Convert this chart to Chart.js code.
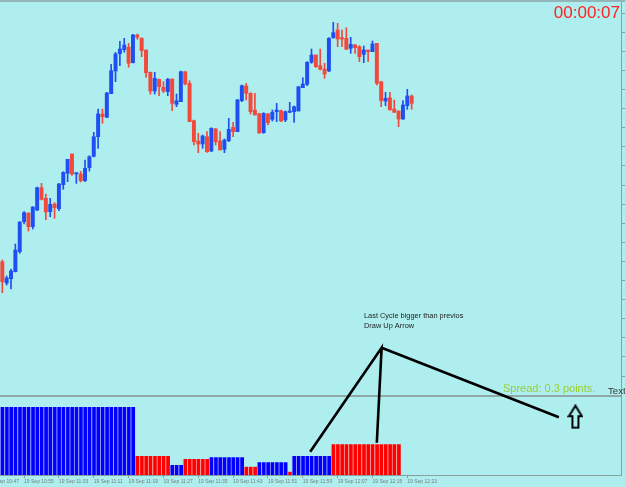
<!DOCTYPE html>
<html>
<head>
<meta charset="utf-8">
<script src="https://cdn.jsdelivr.net/npm/chart.js@4"></script>
<style>
  html, body { margin: 0; padding: 0; background: #afeeee; }
  #wrap { width: 625px; height: 485px; border-top: 2px solid #93b4b8; }
  canvas { display: block; }
</style>
</head>
<body>
<div id="wrap"><canvas id="chart" width="625" height="485"></canvas></div>
<script>
// M1 candles, first bar at 19 Sep 10:50
const firstBarTime = '10:50';

const opens = [138.3, 117, 121.3, 128.3, 148.3, 178.3, 187, 173.3, 190, 212.3,
    201.7, 188.3, 196, 191.3, 215.3, 226.7, 246, 226, 226, 219.3,
    232.3, 243.7, 263.3, 286, 282.7, 306.3, 329, 346.3, 350.3, 352.7,
    337.3, 365, 361.7, 350, 327.7, 309, 320.7, 312.7, 308.3, 321,
    295.7, 298.3, 328.3, 316.7, 279.3, 259, 256, 263.3, 249, 271,
    259, 250.7, 259.3, 272.7, 268.3, 299.3, 314, 306.7, 290, 286.3,
    267.3, 286, 280.7, 288.3, 289.3, 280, 287.7, 288.3, 289, 312.3,
    315.7, 337.7, 345, 334.3, 331, 329, 362.3, 370, 362.3, 361.7,
    351.7, 355, 353.3, 345.7, 350, 348.3, 356.7, 318.3, 299, 302.3,
    291, 289, 281, 294.3, 304];
const highs = [140, 124, 131, 156, 178.3, 188.3, 187, 193.3, 213, 216.7,
    206, 201.7, 197.3, 216.7, 228.3, 240.7, 246, 227.3, 228.7, 240,
    244.3, 267.7, 291, 291, 307.7, 335.7, 347.7, 358.7, 361.7, 356.7,
    365.7, 366, 362.3, 350, 328, 327.7, 321, 318.3, 321.7, 321,
    306, 329, 328.3, 319.3, 280, 266.7, 265, 268.3, 272.3, 271.7,
    268.3, 261, 281.7, 277.7, 300.7, 315, 316.7, 307.3, 306.7, 286.7,
    287.3, 286.7, 290, 296.7, 290, 289, 297.7, 294, 313.3, 322.3,
    338.3, 351, 345, 351, 336.7, 362.3, 377.7, 376.7, 370, 372.3,
    362.7, 355.7, 354.3, 354, 350, 359, 356.7, 318.3, 307.7, 307.7,
    300, 289, 299.3, 310.7, 305];
const lows = [107.3, 115, 111, 128, 146.7, 176, 169, 171, 189.3, 200,
    180.3, 183.3, 181.7, 189.3, 210.7, 218.3, 224.7, 216.7, 218, 218.3,
    229, 243, 251.7, 276.7, 282.3, 306.3, 318.3, 334.3, 347.7, 332.7,
    337, 360.7, 343.3, 322.7, 305.7, 306, 304.3, 307.3, 304.3, 289.3,
    293.3, 298.3, 315, 278.3, 255, 247.3, 251.7, 247.7, 248.3, 255,
    250, 247.3, 258.3, 263.3, 268.3, 298.3, 300, 286, 285, 266.7,
    266.7, 275, 279, 278.3, 278.3, 278.3, 287.3, 277.7, 289, 312.3,
    314.3, 336.7, 332.7, 330, 321.7, 328.3, 361.7, 353.3, 353.3, 350.7,
    346.7, 346.7, 338.3, 337.3, 338.3, 348.3, 315, 293.3, 294.3, 290,
    287.7, 273.3, 280.7, 290.7, 290.7];
const closes = [118.3, 122, 129, 150, 178, 187.3, 173.3, 193, 212.3, 200.7,
    188, 195.7, 192.3, 216, 227.7, 240.7, 226, 227.3, 219.3, 231.7,
    243.3, 263.3, 286, 283.3, 307, 329.3, 346, 351, 355, 336.7,
    365, 362.7, 349.3, 327.3, 309, 321.7, 313.3, 309, 320.7, 296.7,
    299.3, 328.3, 316, 278.3, 258.3, 256, 264, 248.3, 271.7, 258.3,
    250, 260, 270.7, 268.3, 300, 314.3, 306.7, 288.3, 285, 267,
    286.7, 277.3, 287.7, 290, 279, 288.3, 289, 293.3, 313.3, 316,
    337.7, 345, 333.3, 330.7, 326, 361.7, 367.3, 361, 361, 350.7,
    355.7, 352.3, 343.3, 350, 348.3, 356, 316.7, 299.3, 301.7, 290,
    287.7, 281, 295, 304, 296.7];

// cycle histogram in the lower window (up / down cycles alternate)
const cycleLengths = [31, 8, 3, 6, 8, 3, 7, 1, 9, 16];
const cycleHeights = [68, 19, 10, 16, 17.7, 8.3, 12.7, 3.3, 19, 30.7];

const timeLabels = ['19 Sep 10:47', '19 Sep 10:55', '19 Sep 11:03', '19 Sep 11:11',
    '19 Sep 11:19', '19 Sep 11:27', '19 Sep 11:35', '19 Sep 11:43', '19 Sep 11:51',
    '19 Sep 11:59', '19 Sep 12:07', '19 Sep 12:15', '19 Sep 12:23'];

// trend lines from the last cycle top, and the signal arrow
const apex = { x: 87.1, y: 52.3 };
const lineEnds = [{ x: 70.7, y: -51.7 }, { x: 86, y: -42.7 }, { x: 127.8, y: -17.3 }];
const arrowAt = { x: 131.6, y: -16.7 };

const timerText = '00:00:07';
const spreadText = 'Spread: 0.3 points.';
const noteLines = ['Last Cycle bigger than previos', 'Draw Up Arrow'];

const BLUE = '#1f4ff2';
const RED = '#f2493b';
const AXIS = '#8a9e9e';

const toMin = t => {
    const [h, m] = t.split(' ').pop().split(':').map(Number);
    return h * 60 + m;
};
const tickValues = timeLabels.map(l => toMin(l) - toMin(firstBarTime));

const bodies = opens.map((o, i) => ({ x: i, y: [o, closes[i]] }));
const wicks = opens.map((o, i) => ({ x: i, y: [lows[i], highs[i]] }));
const candleColor = ctx => closes[ctx.dataIndex] >= opens[ctx.dataIndex] ? BLUE : RED;

const histUp = [], histDown = [];
let bar = 0;
cycleLengths.forEach((n, c) => {
    for (let k = 0; k < n; k++, bar++) {
        (c % 2 === 0 ? histUp : histDown).push({ x: bar, y: cycleHeights[c] });
    }
});

function makeArrow() {
    const c = document.createElement('canvas');
    c.width = 16;
    c.height = 25;
    const g = c.getContext('2d');
    g.lineWidth = 2;
    g.strokeStyle = '#000';
    g.beginPath();
    g.moveTo(8, 1.5);
    g.lineTo(14.5, 12);
    g.lineTo(11, 12);
    g.lineTo(11, 23.5);
    g.lineTo(5, 23.5);
    g.lineTo(5, 12);
    g.lineTo(1.5, 12);
    g.closePath();
    g.stroke();
    return c;
}

// labels that sit on the chart window
const overlay = {
    id: 'overlay',
    afterDraw(chart) {
        const { ctx, chartArea: a } = chart;
        ctx.save();
        ctx.textBaseline = 'middle';

        ctx.font = '17px "Liberation Sans", Arial, sans-serif';
        ctx.fillStyle = '#ff2222';
        ctx.textAlign = 'right';
        ctx.fillText(timerText, a.right - 1, a.top + 11);

        ctx.textAlign = 'left';
        ctx.font = '11px "Liberation Sans", Arial, sans-serif';
        ctx.fillStyle = '#9acd32';
        ctx.fillText(spreadText, a.left + 503, a.top + 387);

        ctx.font = '9.6px "Liberation Sans", Arial, sans-serif';
        ctx.fillStyle = '#333';
        ctx.fillText('Text', a.left + 608, a.top + 389);

        ctx.font = '7.4px "Liberation Sans", Arial, sans-serif';
        ctx.fillStyle = '#222';
        noteLines.forEach((t, i) => ctx.fillText(t, a.left + 364, a.top + 314 + i * 10));
        ctx.restore();
    }
};

const barBase = { type: 'bar', grouped: false, borderWidth: 0 };

new Chart(document.getElementById('chart'), {
    type: 'bar',
    data: {
        datasets: [
            { type: 'line', data: [lineEnds[0], apex, lineEnds[1]], borderColor: '#000', borderWidth: 2.6,
              pointRadius: 0, tension: 0, yAxisID: 'y', order: 0 },
            { type: 'line', data: [apex, lineEnds[2]], borderColor: '#000', borderWidth: 2.6,
              pointRadius: 0, tension: 0, yAxisID: 'y', order: 0 },
            { type: 'line', data: [arrowAt], showLine: false, pointStyle: makeArrow(), pointRadius: 8,
              yAxisID: 'y', order: 1 },
            { ...barBase, data: bodies, backgroundColor: candleColor, barThickness: 3.3, yAxisID: 'y', order: 2 },
            { ...barBase, data: wicks, backgroundColor: candleColor, barThickness: 1, yAxisID: 'y', order: 3 },
            { ...barBase, data: histUp, backgroundColor: '#0000ff', borderColor: '#9a9aff',
              borderWidth: { left: 1, right: 0, top: 0, bottom: 0 }, barPercentage: 1, categoryPercentage: 1,
              yAxisID: 'yh', order: 4 },
            { ...barBase, data: histDown, backgroundColor: '#ff0000', borderColor: '#ff9a9a',
              borderWidth: { left: 1, right: 0, top: 0, bottom: 0 }, barPercentage: 1, categoryPercentage: 1,
              yAxisID: 'yh', order: 4 }
        ]
    },
    options: {
        responsive: false,
        animation: false,
        devicePixelRatio: 1,
        events: [],
        layout: { padding: 0, autoPadding: false },
        plugins: { legend: { display: false }, tooltip: { enabled: false } },
        scales: {
            x: {
                type: 'linear',
                offset: false,
                min: -0.53,
                max: 142.07,
                afterBuildTicks: s => { s.ticks = tickValues.map(v => ({ value: v })); },
                afterFit: s => { s.height = 12; s.paddingLeft = 0; s.paddingRight = 0; },
                ticks: {
                    autoSkip: false, maxRotation: 0, align: 'start', padding: 1,
                    color: '#6f8282', font: { size: 5, family: '"Liberation Sans", Arial, sans-serif' },
                    callback: (v, i) => timeLabels[i]
                },
                grid: { offset: false, drawOnChartArea: false, drawTicks: true, tickLength: 3, color: AXIS },
                border: { display: true, color: AXIS }
            },
            y: {
                position: 'right',
                min: -75,
                max: 398,
                afterBuildTicks: s => {
                    const t = [];
                    for (let v = 24; v <= 398; v += 19.1) t.push({ value: v });
                    s.ticks = t;
                },
                afterFit: s => { s.width = 4; s.paddingTop = 0; s.paddingBottom = 0; },
                ticks: { display: false },
                grid: { drawOnChartArea: false, drawTicks: true, tickLength: 4, color: AXIS },
                border: { display: true, color: AXIS }
            },
            yh: {
                position: 'left',
                min: 0,
                max: 473,
                afterBuildTicks: s => { s.ticks = [{ value: 79 }]; },
                afterFit: s => { s.width = 0; s.paddingTop = 0; s.paddingBottom = 0; },
                ticks: { display: false },
                grid: { drawTicks: false, color: '#8fa9ab', lineWidth: 2 },
                border: { display: false }
            }
        }
    },
    plugins: [overlay]
});
</script>
</body>
</html>
